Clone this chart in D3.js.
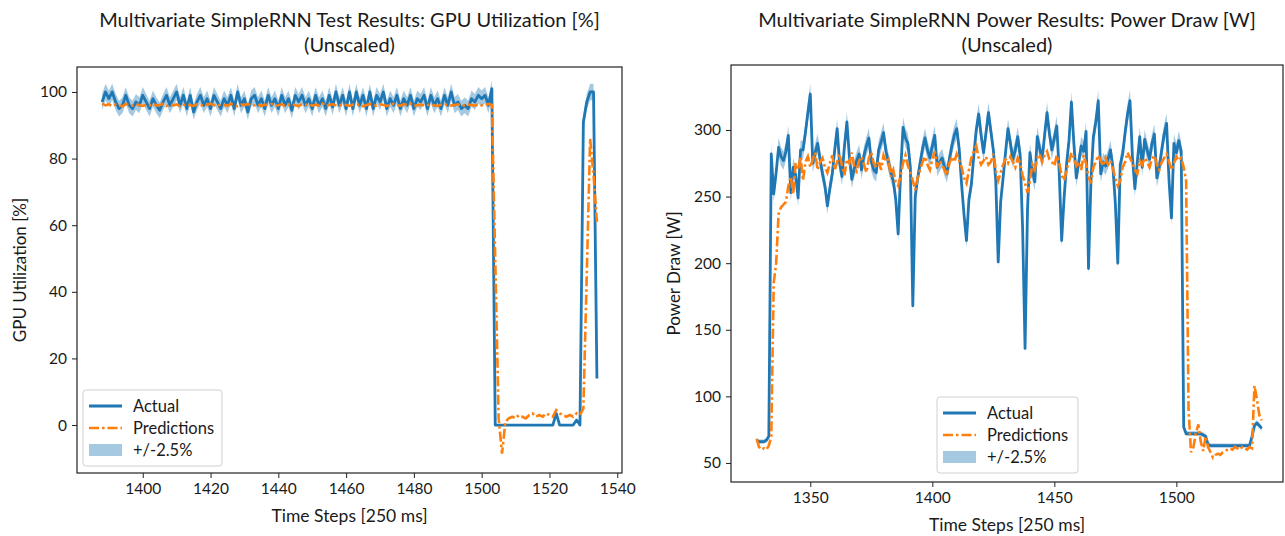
<!DOCTYPE html>
<html>
<head>
<meta charset="utf-8">
<script src="https://cdn.jsdelivr.net/npm/d3@7"></script>
<style>
  body { margin: 0; background: #fff; }
  svg text { font-family: Lato, "Noto Sans", sans-serif; fill: #1a1a1a; }
</style>
</head>
<body>
<div class="chart"></div>
<script>
// GPU utilization test results (time steps start at 1388)
var gpuStart = 1388;
var gpuActual = [
  97, 100, 98, 100, 97, 95, 96, 99, 96, 95,
  97, 96, 99, 97, 95, 98, 96, 94.5, 97, 99,
  96, 98, 100, 96, 99, 95, 99, 94, 97, 99,
  96, 98, 95, 99, 97, 95, 98, 96, 99, 95,
  100, 96, 98, 94, 98, 99, 96, 98, 95, 99,
  96, 98, 95, 99, 96, 98, 94.5, 99, 97, 99,
  96, 98, 95, 99, 96, 98, 95, 99, 95.5, 100,
  96, 99, 95, 100, 95, 100, 96, 99, 95, 100,
  95, 99, 97, 100, 95, 98, 96, 99, 95, 98,
  96, 99, 95, 98, 97, 99, 95, 99, 96, 98,
  95, 99, 96, 100, 96, 97, 95, 96, 95, 98,
  97, 99, 98, 99, 96, 101,
  0, 0, 0, 0, 0, 0, 0, 0, 0, 0,
  0, 0, 0, 0, 0, 0, 0, 0, 3.5, 0,
  0, 0, 0, 0, 1.5, 0, 91, 97, 100, 100,
  14
];
var gpuPred = [
  96.5, 96, 96.3, 95.8, 96.2, 96, 95.7, 96.4, 96, 95.9,
  96.3, 96.1, 95.8, 96.2, 96, 96.5, 95.9, 96.1, 96.4, 95.8,
  96.2, 96, 96.3, 95.7, 96.1, 96.4, 96, 95.8, 96.3, 96.1,
  95.9, 96.2, 96.5, 96, 95.8, 96.3, 96.1, 95.9, 96.4, 96,
  95.7, 96.2, 96.1, 96.4, 95.9, 96, 96.3, 95.8, 96.2, 96.1,
  96.4, 95.9, 96, 96.3, 95.7, 96.2, 96.5, 96, 95.8, 96.3,
  96.1, 96.4, 95.9, 96.2, 96, 96.6, 95.8, 96.1, 96.3, 96,
  95.9, 96.4, 96.1, 95.8, 96.2, 96, 96.3, 95.7, 96.1, 96.4,
  96, 95.9, 96.3, 96.1, 95.8, 96.2, 96.4, 96, 95.9, 96.3,
  96.1, 96.5, 95.8, 96, 96.2, 95.9, 96.1, 96.3, 96, 95.8,
  96.2, 96.4, 96, 95.9, 96.1, 96.3, 95.8, 96, 96.2, 96.1,
  95.9, 96.3, 96, 96.2, 96.4, 96.1,
  50, 2, -8.6, 1, 2, 2.5, 2, 3, 2.5, 2,
  3, 3.5, 2.5, 3, 2.5, 3.5, 3, 2.5, 4.5, 3.5,
  3, 2.5, 3, 2.5, 3.5, 3, 5, 45, 86, 75,
  61
];
var gpuXTicks = [1400, 1420, 1440, 1460, 1480, 1500, 1520, 1540];
var gpuYTicks = [0, 20, 40, 60, 80, 100];

// Power draw results (time steps start at 1328)
var powerStart = 1328;
var powerActual = [
  67, 66, 66, 66, 67, 70, 282, 252, 268, 287,
  280, 277, 284, 296, 253, 272, 266, 249, 285, 285,
  298, 313, 327, 275, 283, 290, 278, 267, 258, 243,
  256, 267, 285, 301, 275, 265, 288, 306, 280, 263,
  271, 277, 282, 270, 281, 288, 294, 276, 270, 268,
  285, 291, 298, 284, 276, 268, 262, 248, 222, 268,
  302, 294, 290, 272, 168, 250, 264, 275, 286, 294,
  285, 279, 288, 296, 272, 276, 279, 272, 267, 278,
  288, 296, 301, 286, 259, 236, 217, 248, 259, 281,
  300, 312, 296, 283, 298, 313, 299, 285, 262, 201,
  246, 264, 283, 301, 290, 278, 285, 295, 281, 226,
  136, 240, 283, 269, 261, 295, 286, 278, 296, 313,
  297, 285, 294, 303, 268, 217, 249, 274, 292, 321,
  290, 264, 276, 288, 284, 299, 196, 262, 295, 306,
  322, 267, 276, 273, 278, 285, 272, 245, 200, 274,
  282, 298, 312, 322, 280, 256, 276, 295, 272, 293,
  285, 278, 290, 297, 264, 272, 285, 297, 305, 262,
  234, 290, 283, 292, 284, 77, 72, 72, 72, 72,
  72, 72, 72, 71, 70, 64, 63, 63, 63, 63,
  63, 63, 63, 63, 63, 63, 63, 63, 63, 63,
  63, 63, 63, 70, 78, 80, 78, 76
];
var powerPred = [
  68, 62, 60, 61, 60, 63, 70, 185, 200, 237,
  242, 244, 246, 258, 265, 252, 275, 270, 280, 262,
  276, 280, 272, 278, 283, 270, 276, 279, 272, 268,
  275, 281, 270, 276, 282, 273, 266, 278, 275, 283,
  272, 269, 277, 280, 274, 268, 279, 283, 275, 272,
  277, 270, 281, 276, 278, 265, 270, 261, 258, 266,
  275, 281, 273, 268, 262, 255, 264, 270, 276, 280,
  274, 270, 278, 284, 272, 277, 274, 270, 266, 275,
  280, 276, 282, 277, 272, 264, 260, 270, 279, 284,
  288, 279, 274, 277, 280, 274, 276, 282, 270, 262,
  268, 274, 278, 275, 280, 276, 272, 279, 275, 266,
  260, 253, 262, 274, 270, 279, 282, 276, 281, 284,
  278, 276, 273, 281, 275, 266, 262, 270, 276, 283,
  279, 273, 276, 270, 281, 275, 265, 260, 272, 276,
  281, 277, 273, 279, 274, 277, 271, 264, 258, 262,
  272, 276, 283, 279, 275, 270, 267, 277, 274, 279,
  276, 272, 278, 281, 274, 270, 276, 279, 282, 276,
  270, 275, 280, 277, 279, 272, 262, 90, 58, 62,
  72, 79, 66, 59, 70, 62, 58, 54, 56, 57,
  56, 58, 59, 60, 61, 60, 62, 61, 60, 62,
  61, 60, 62, 61, 108, 98, 86, 82
];
var powerXTicks = [1350, 1400, 1450, 1500];
var powerYTicks = [50, 100, 150, 200, 250, 300];

var bandPct = 0.025;
var legendLabels = ["Actual", "Predictions", "+/-2.5%"];

var blue = "#1f77b4";
var orange = "#ff7f0e";

var svgWidth = 1285;
var svgHeight = 536;

var svg = d3.select(".chart")
  .append("svg")
  .attr("width", svgWidth)
  .attr("height", svgHeight);

function drawPanel(p) {
  var g = svg.append("g");
  var x0 = p.frame.x, y0 = p.frame.y, w = p.frame.w, h = p.frame.h;

  var xScale = d3.scaleLinear().domain(p.xDomain).range([x0, x0 + w]);
  var yScale = d3.scaleLinear().domain(p.yDomain).range([y0 + h, y0]);

  var rows = p.actual.map(function(v, i) {
    return { t: p.start + i, actual: v, pred: p.pred[i] };
  });

  // +/- band around the actual values
  var band = d3.area()
    .x(d => xScale(d.t))
    .y0(d => yScale(d.actual * (1 - bandPct)))
    .y1(d => yScale(d.actual * (1 + bandPct)));

  g.append("path")
    .datum(rows)
    .attr("d", band)
    .attr("fill", blue)
    .attr("fill-opacity", 0.4);

  var actualLine = d3.line().x(d => xScale(d.t)).y(d => yScale(d.actual));
  var predLine = d3.line().x(d => xScale(d.t)).y(d => yScale(d.pred));

  g.append("path")
    .datum(rows)
    .attr("d", actualLine)
    .attr("fill", "none")
    .attr("stroke", blue)
    .attr("stroke-width", 2.8)
    .attr("stroke-linejoin", "round");

  g.append("path")
    .datum(rows)
    .attr("d", predLine)
    .attr("fill", "none")
    .attr("stroke", orange)
    .attr("stroke-width", 2.6)
    .attr("stroke-dasharray", "10,3,2.5,3");

  // axes
  var xAxis = d3.axisBottom(xScale).tickValues(p.xTicks).tickSize(5).tickPadding(5).tickFormat(d3.format("d"));
  var yAxis = d3.axisLeft(yScale).tickValues(p.yTicks).tickSize(5).tickPadding(5).tickFormat(d3.format("d"));

  var gx = g.append("g")
    .attr("transform", `translate(0, ${y0 + h})`)
    .call(xAxis);
  var gy = g.append("g")
    .attr("transform", `translate(${x0}, 0)`)
    .call(yAxis);
  [gx, gy].forEach(function(a) {
    a.select(".domain").remove();
    a.selectAll("line").attr("stroke", "#222").attr("stroke-width", 1);
    a.selectAll("text").attr("font-size", 15.5).attr("fill", "#1a1a1a")
      .style("font-family", "Lato, sans-serif");
  });

  // frame
  g.append("rect")
    .attr("x", x0).attr("y", y0)
    .attr("width", w).attr("height", h)
    .attr("fill", "none")
    .attr("stroke", "#222")
    .attr("stroke-width", 1.2);

  // titles
  g.append("text")
    .attr("x", x0 + w / 2).attr("y", 27)
    .attr("text-anchor", "middle")
    .attr("font-size", 20)
    .text(p.title);
  g.append("text")
    .attr("x", x0 + w / 2).attr("y", 52)
    .attr("text-anchor", "middle")
    .attr("font-size", 20)
    .text("(Unscaled)");

  g.append("text")
    .attr("x", x0 + w / 2).attr("y", y0 + h + 49)
    .attr("text-anchor", "middle")
    .attr("font-size", 17.5)
    .text("Time Steps [250 ms]");

  g.append("text")
    .attr("transform", `translate(${x0 - 51}, ${y0 + h / 2}) rotate(-90)`)
    .attr("text-anchor", "middle")
    .attr("font-size", 17)
    .text(p.yLabel);

  // legend
  var lg = g.append("g").attr("transform", `translate(${p.legend.x}, ${p.legend.y})`);
  lg.append("rect")
    .attr("width", p.legend.w).attr("height", p.legend.h)
    .attr("rx", 3)
    .attr("fill", "#fff").attr("fill-opacity", 0.85)
    .attr("stroke", "#d0d0d0");

  legendLabels.forEach(function(label, i) {
    var ly = 16 + i * 22;
    if (i === 0) {
      lg.append("line").attr("x1", 6).attr("x2", 39).attr("y1", ly).attr("y2", ly)
        .attr("stroke", blue).attr("stroke-width", 2.8);
    } else if (i === 1) {
      lg.append("line").attr("x1", 6).attr("x2", 39).attr("y1", ly).attr("y2", ly)
        .attr("stroke", orange).attr("stroke-width", 2.6)
        .attr("stroke-dasharray", "10,3,2.5,3");
    } else {
      lg.append("rect").attr("x", 6).attr("y", ly - 6).attr("width", 33).attr("height", 12)
        .attr("fill", blue).attr("fill-opacity", 0.4);
    }
    lg.append("text")
      .attr("x", 50).attr("y", ly + 5.5)
      .attr("font-size", 16.5)
      .text(label);
  });
}

drawPanel({
  frame: { x: 77, y: 67, w: 545, h: 406 },
  xDomain: [1380.6, 1541.4],
  yDomain: [-14.4, 107.5],
  start: gpuStart,
  actual: gpuActual,
  pred: gpuPred,
  xTicks: gpuXTicks,
  yTicks: gpuYTicks,
  title: "Multivariate SimpleRNN Test Results: GPU Utilization [%]",
  yLabel: "GPU Utilization [%]",
  legend: { x: 83, y: 390, w: 139, h: 76 }
});

drawPanel({
  frame: { x: 731, y: 65, w: 552, h: 417 },
  xDomain: [1317.5, 1543.7],
  yDomain: [35.7, 348.8],
  start: powerStart,
  actual: powerActual,
  pred: powerPred,
  xTicks: powerXTicks,
  yTicks: powerYTicks,
  title: "Multivariate SimpleRNN Power Results: Power Draw [W]",
  yLabel: "Power Draw [W]",
  legend: { x: 937, y: 397, w: 141, h: 76 }
});
</script>
</body>
</html>
